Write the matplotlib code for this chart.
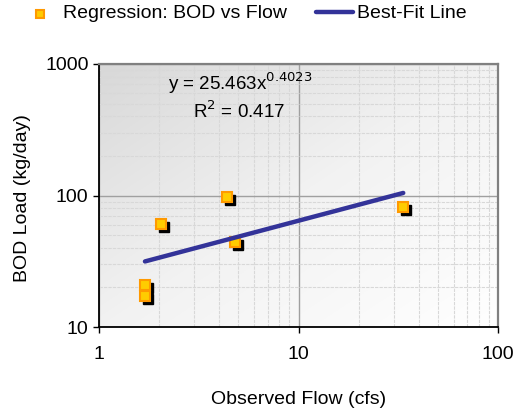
import numpy as np
import matplotlib
matplotlib.use("Agg")
import matplotlib.pyplot as plt
import matplotlib.transforms as mtransforms
from matplotlib.colors import LinearSegmentedColormap
from matplotlib.ticker import FixedLocator, FixedFormatter, LogLocator, NullFormatter
from matplotlib.lines import Line2D

plt.rcParams['font.family'] = ['Liberation Sans', 'DejaVu Sans']

# observed data
flow = [1.70, 1.70, 2.04, 4.37, 4.81, 33.5]
bod = [20.8, 17.3, 60.7, 96.9, 44.5, 82.2]

# power-law fit y = a * x^b
fit_a = 25.463
fit_b = 0.4023
r2 = 0.417

W, H = 532, 413
fig = plt.figure(figsize=(W / 100, H / 100), dpi=100)
ax = fig.add_axes([99 / W, 1 - 327 / H, 399 / W, 263 / H])


def fx(px):
    return px / W


def fy(py):
    return 1 - py / H


ax.set_xscale('log')
ax.set_yscale('log')
ax.set_xlim(1, 100)
ax.set_ylim(10, 1000)

# gradient background, darker at top-left
gx, gy = np.meshgrid(np.linspace(0, 1, 200), np.linspace(0, 1, 200))
grad = (gx + gy) / 2.0
cmap = LinearSegmentedColormap.from_list('bg', ['#d8d8d8', '#f2f2f2', '#ffffff'])
ax.imshow(grad, extent=[0, 1, 0, 1], transform=ax.transAxes, cmap=cmap,
          vmin=0, vmax=1, origin='upper', aspect='auto', zorder=0,
          interpolation='bilinear')

ax.xaxis.set_major_locator(FixedLocator([1, 10, 100]))
ax.xaxis.set_major_formatter(FixedFormatter(['1', '10', '100']))
ax.yaxis.set_major_locator(FixedLocator([10, 100, 1000]))
ax.yaxis.set_major_formatter(FixedFormatter(['10', '100', '1000']))
ax.xaxis.set_minor_locator(LogLocator(base=10, subs=np.arange(2, 10)))
ax.yaxis.set_minor_locator(LogLocator(base=10, subs=np.arange(2, 10)))
ax.xaxis.set_minor_formatter(NullFormatter())
ax.yaxis.set_minor_formatter(NullFormatter())

ax.grid(True, which='major', color='#a0a0a0', lw=1.0, zorder=1)
ax.grid(True, which='minor', color='#d8d8d8', lw=0.8, ls=(0, (3, 1)), zorder=1)
ax.set_axisbelow(True)

ax.tick_params(which='major', direction='out', length=4.5, width=1, labelsize=14, color='black')
ax.tick_params(which='minor', length=0)
ax.tick_params(axis='x', pad=9)
ax.tick_params(axis='y', pad=3)

for s in ['left', 'bottom']:
    ax.spines[s].set_color('black')
    ax.spines[s].set_linewidth(1.3)
for s in ['top', 'right']:
    ax.spines[s].set_color('#808080')
    ax.spines[s].set_linewidth(1.6)

# shadow squares
shadow = mtransforms.offset_copy(ax.transData, fig=fig, x=3, y=-3, units='dots')
ax.plot(flow, bod, 's', ms=7, color='black', transform=shadow, zorder=3)
ax.plot(flow, bod, 's', ms=7, mfc='#FFCC00', mec='#FF9900', mew=1.5, zorder=4)

xs = np.linspace(min(flow), max(flow), 100)
ax.plot(xs, fit_a * xs ** fit_b, color='#333399', lw=3.2, solid_capstyle='round', zorder=5)

fig.text(fx(168), fy(90), 'y = 25.463x$^{0.4023}$', ha='left', va='baseline', fontsize=13.5)
fig.text(fx(193), fy(118), 'R$^2$ = %.3f' % r2, ha='left', va='baseline', fontsize=13.5)

ax.set_xlabel('Observed Flow (cfs)', fontsize=14)
ax.set_ylabel('BOD Load (kg/day)', fontsize=14)
ax.xaxis.set_label_coords((299 - 99) / 399, -(399 - 327) / 263)
ax.xaxis.label.set_va('center')
ax.yaxis.set_label_coords((23 - 99) / 399, (327 - 198) / 263)
ax.yaxis.label.set_va('center')

# legend drawn at the top of the figure
fig.add_artist(Line2D([fx(40)], [fy(14)], marker='s', ls='none', ms=6,
                      mfc='#FFCC00', mec='#FF9900', mew=1.5))
fig.text(fx(63), fy(14), 'Regression: BOD vs Flow', ha='left', va='center', fontsize=14)
fig.add_artist(Line2D([fx(316), fx(353)], [fy(12), fy(12)], color='#333399', lw=3.2,
                      solid_capstyle='round'))
fig.text(fx(357), fy(14), 'Best-Fit Line', ha='left', va='center', fontsize=14)

fig.savefig('out.png', dpi=100)
